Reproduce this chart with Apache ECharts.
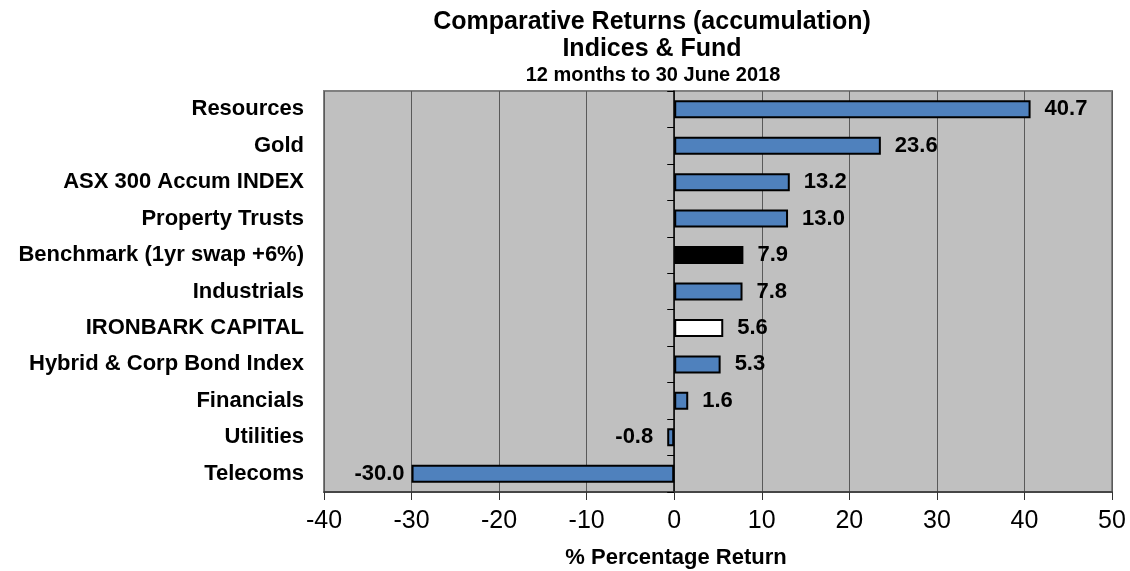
<!DOCTYPE html>
<html><head><meta charset="utf-8">
<script src="https://cdn.jsdelivr.net/npm/echarts@6/dist/echarts.min.js"></script>
<style>html,body{margin:0;padding:0;background:#fff}#c{width:1130px;height:571px}</style>
</head><body><div id="c"></div>
<script>
const categories = ["Resources","Gold","ASX 300 Accum INDEX","Property Trusts","Benchmark (1yr swap +6%)","Industrials","IRONBARK CAPITAL","Hybrid & Corp Bond Index","Financials","Utilities","Telecoms"];
const values = [40.7,23.6,13.2,13.0,7.9,7.8,5.6,5.3,1.6,-0.8,-30.0];
const fills = ["#4F81BD","#4F81BD","#4F81BD","#4F81BD","#000000","#4F81BD","#FFFFFF","#4F81BD","#4F81BD","#4F81BD","#4F81BD"];
const xTicks = [-40,-30,-20,-10,0,10,20,30,40,50];
const titleLines = ["Comparative Returns (accumulation)","Indices & Fund","12 months to 30 June 2018"];
const axisName = "% Percentage Return";

const chart = echarts.init(document.getElementById('c'));
const font = 'Arial, "Liberation Sans", sans-serif';
chart.setOption({
  animation:false,
  textStyle:{fontFamily:font},
  graphic:[
    {type:'text',x:652,y:22,style:{text:titleLines[0],font:'bold 25px '+font,fill:'#000',align:'center',verticalAlign:'middle'}},
    {type:'text',x:652,y:49,style:{text:titleLines[1],font:'bold 25px '+font,fill:'#000',align:'center',verticalAlign:'middle'}},
    {type:'text',x:653,y:75,style:{text:titleLines[2],font:'bold 20px '+font,fill:'#000',align:'center',verticalAlign:'middle'}},
    {type:'text',x:676,y:558,style:{text:axisName,font:'bold 22px '+font,fill:'#000',align:'center',verticalAlign:'middle'}}
  ],
  grid:{left:324,right:18,top:91,height:401,show:true,backgroundColor:'#C0C0C0',borderColor:'#808080',borderWidth:2},
  xAxis:{type:'value',min:xTicks[0],max:xTicks[xTicks.length-1],interval:10,
    axisLine:{show:true,onZero:false,lineStyle:{color:'#333',width:1.5}},
    axisTick:{show:true,length:8,lineStyle:{color:'#333'}},
    axisLabel:{fontSize:25,color:'#000',margin:17,fontFamily:font},
    splitLine:{show:true,lineStyle:{color:'#5a5a5a',width:1}}},
  yAxis:{type:'category',data:categories,inverse:true,
    axisLine:{show:true,onZero:true,lineStyle:{color:'#000',width:1.5}},
    axisTick:{show:true,length:7,lineStyle:{color:'#000'}},
    axisLabel:{fontSize:22,fontWeight:'bold',color:'#000',margin:20,fontFamily:font},
    splitLine:{show:false}},
  series:[{type:'bar',barWidth:18,
    data:values.map((v,i)=>({value:v,itemStyle:{color:fills[i],borderColor:'#000',borderWidth:2},
      label:{show:true,position:v>=0?'right':'left',distance:(i===values.length-1)?7:14,formatter:()=>v.toFixed(1),
        fontSize:22,fontWeight:'bold',color:'#000',fontFamily:font}}))
  }]
});
</script></body></html>
